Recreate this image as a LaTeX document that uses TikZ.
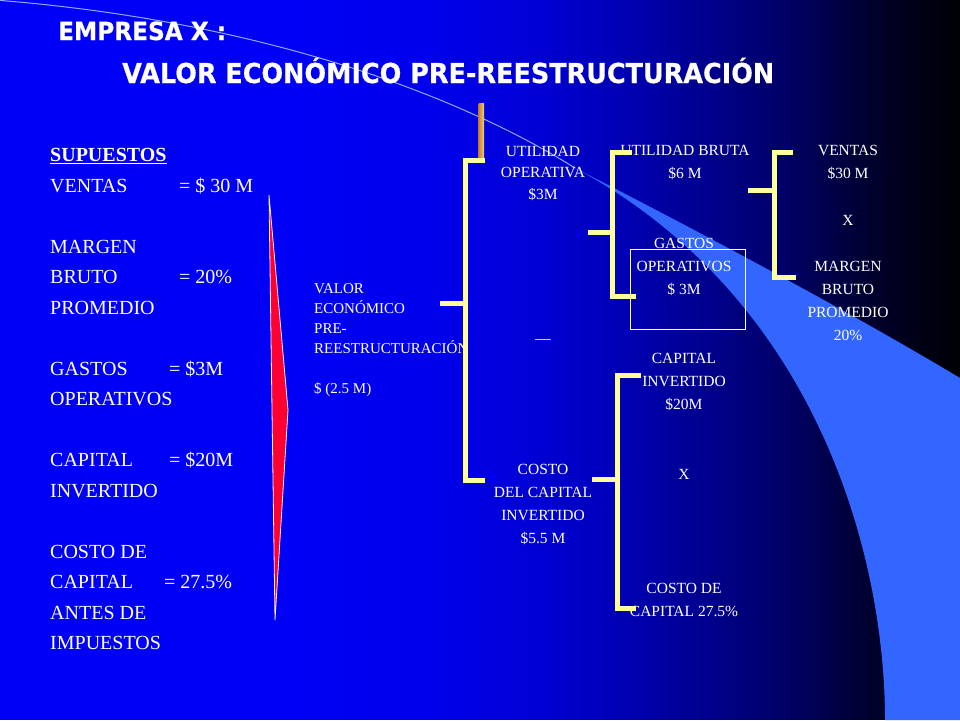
\documentclass[tikz,border=0pt]{standalone}
\usepackage{fontspec}
\setmainfont{Liberation Serif}
\newfontfamily\titulofont{DejaVu Sans Bold}[FakeStretch=0.93, FakeBold=0.6]

\definecolor{amarillo}{RGB}{255,255,153}
\definecolor{franja}{RGB}{51,102,255}
\definecolor{cuna}{RGB}{255,0,51}
\definecolor{oro1}{RGB}{196,128,48}
\definecolor{oro2}{RGB}{250,204,128}

\begin{document}
\begin{tikzpicture}[x=1pt,y=-1pt,
    llave/.style={draw=amarillo, line width=5pt},
    etiqueta/.style={text=white, font=\fontsize{15.5}{23}\selectfont, align=center, inner sep=0pt, anchor=north},
    supuesto/.style={text=white, font=\fontsize{20}{30.5}\selectfont, inner sep=0pt, anchor=base west}]

  % Fondo
  \useasboundingbox (0,0) rectangle (960,720);
  \foreach \xa/\xb/\ca/\cb in {0/300/247/245, 300/440/245/235, 440/540/235/212, 540/612/212/186,
      612/700/186/145, 700/796/145/97, 796/856/97/56, 856/900/56/31, 900/960/31/5} {
    \pgfmathsetmacro{\n}{int((\xb-\xa)/4)}
    \pgfmathsetmacro{\w}{(\xb-\xa)/\n}
    \foreach \k in {1,...,\n} {
      \pgfmathsetmacro{\xx}{\xa+(\k-1)*\w}
      \pgfmathsetmacro{\cc}{int(\ca+(\cb-\ca)*(\k-0.5)/\n)}
      \definecolor{tono}{RGB}{0,0,\cc}
      \fill[tono] (\xx,0) rectangle ++(\w+0.6,720);
    }
  }

  \fill[franja] (575,168) .. controls (700,232) and (850,312) .. (960,378)
        -- (960,720) -- (885,720)
        .. controls (885,560) and (820,300) .. (575,168) -- cycle;
  \draw[franja!55!white, line width=1pt] (-5,0) .. controls (250,20) and (450,90) .. (575,168);

  \filldraw[fill=cuna, draw=white!75!pink, line width=0.8pt]
        (269,195) -- (288,410) -- (275,620) -- (272,410) -- cycle;

  % Titulo
  \node[anchor=base west, inner sep=0pt, text=white, font=\titulofont\fontsize{25}{30}\selectfont]
        (empresa) at (58,40) {EMPRESA X :};
  \node[anchor=base west, inner sep=0pt, text=white, font=\titulofont\fontsize{27.4}{32}\selectfont]
        (titulo) at (122,83) {VALOR ECONÓMICO PRE-REESTRUCTURACIÓN};

  % Supuestos
  \node[supuesto, anchor=north west, align=left] (supuestos) at (50,148.4)
        {\underline{\textbf{SUPUESTOS}}\\VENTAS\\[30.5pt]MARGEN\\BRUTO\\PROMEDIO\\[30.5pt]GASTOS\\OPERATIVOS\\[30.5pt]%
         CAPITAL\\INVERTIDO\\[30.5pt]COSTO DE\\CAPITAL\\ANTES DE\\IMPUESTOS};
  \node[supuesto] (sventas) at (179,192.1) {= \$ 30 M};
  \node[supuesto] (smargen) at (179,283.6) {= 20\%};
  \node[supuesto] (sgastos) at (169,375.1) {= \$3M};
  \node[supuesto] (scapital) at (169,466.6) {= \$20M};
  \node[supuesto] (scosto) at (164,588.6) {= 27.5\%};

  % Arbol
  \node[etiqueta, anchor=north west, align=left, font=\fontsize{15}{20}\selectfont] (valor) at (314,283)
        {VALOR\\ECONÓMICO\\PRE-\\REESTRUCTURACIÓN\\[20pt]\$ (2.5 M)};
  \node[etiqueta, font=\fontsize{15.5}{21.5}\selectfont] (uoper) at (543,146) {UTILIDAD\\OPERATIVA\\\$3M};
  \node[etiqueta, anchor=base] (menos) at (543,343) {—};
  \node[etiqueta] (cdci) at (543,464) {COSTO\\DEL CAPITAL\\INVERTIDO\\\$5.5 M};

  \node[etiqueta] (ubruta) at (685,145) {UTILIDAD BRUTA\\\$6 M};
  \node[etiqueta] (gastos) at (684,238) {GASTOS\\OPERATIVOS\\\$ 3M};
  \node[etiqueta] (capital) at (684,353) {CAPITAL\\INVERTIDO\\\$20M};
  \node[etiqueta] (por2) at (684,469) {X};
  \node[etiqueta] (ccapital) at (684,583) {COSTO DE\\CAPITAL 27.5\%};

  \node[etiqueta] (ventas) at (848,145) {VENTAS\\\$30 M};
  \node[etiqueta] (por1) at (848,215) {X};
  \node[etiqueta] (mbruto) at (848,261) {MARGEN\\BRUTO\\PROMEDIO\\20\%};

  \draw[white, line width=0.8pt] (630,249) rectangle (745,329);

  % Llaves
  \shade[left color=oro1, right color=oro2] (478.5,103) rectangle (484,158);
  \draw[llave] (485,160) -- (465,160) -- (465,480) -- (485,480);
  \draw[llave] (440,303) -- (465,303);

  \draw[llave] (632,152) -- (612,152) -- (612,296) -- (636,296);
  \draw[llave] (588,232) -- (612,232);

  \draw[llave] (793,152) -- (774,152) -- (774,277) -- (796,277);
  \draw[llave] (748,190) -- (774,190);

  \draw[llave] (641,375) -- (617,375) -- (617,608) -- (636,608);
  \draw[llave] (592,479) -- (617,479);
\end{tikzpicture}
\end{document}
